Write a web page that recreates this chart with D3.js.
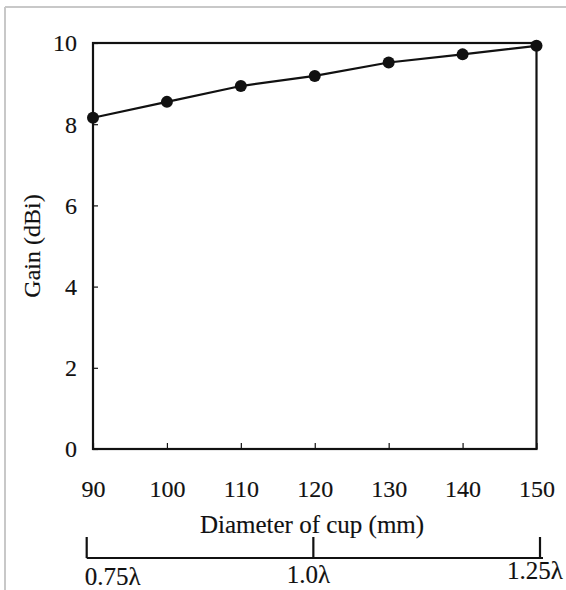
<!DOCTYPE html>
<html>
<head>
<meta charset="utf-8">
<script src="https://cdn.jsdelivr.net/npm/d3@7"></script>
<style>
  body { margin: 0; background: #fff; }
  svg text { font-family: "Liberation Serif", "Times New Roman", serif; fill: #111; stroke: #111; stroke-width: 0.15px; }
  .axis path, .axis line { stroke: #111; }
</style>
</head>
<body>
<svg width="566" height="590"></svg>
<script>
// values
var diameters = [90, 100, 110, 120, 130, 140, 150];
var gains = [8.16, 8.55, 8.94, 9.19, 9.52, 9.72, 9.93];
var xTicks = [90, 100, 110, 120, 130, 140, 150];
var yTicks = [0, 2, 4, 6, 8, 10];
var lambdaTicks = [0.75, 1.0, 1.25];
var lambdaLabels = ["0.75\u03bb", "1.0\u03bb", "1.25\u03bb"];

var svg = d3.select("svg"),
    margin = {top: 43, right: 29.5, bottom: 141, left: 93},
    width = svg.attr("width") - margin.left - margin.right,
    height = svg.attr("height") - margin.top - margin.bottom;

// light scan frame at left / top
svg.append("line").attr("x1", 5).attr("y1", 7).attr("x2", 5).attr("y2", 590)
    .attr("stroke", "#c8c8c8").attr("stroke-width", 2);
svg.append("line").attr("x1", 5).attr("y1", 7).attr("x2", 566).attr("y2", 7)
    .attr("stroke", "#c8c8c8").attr("stroke-width", 2);

var g = svg.append("g").attr("transform", "translate(" + margin.left + "," + margin.top + ")");

var x = d3.scaleLinear().domain([90, 150]).range([0, width]),
    y = d3.scaleLinear().domain([0, 10]).range([height, 0]);

// frame of the plot
g.append("rect")
    .attr("width", width).attr("height", height)
    .attr("fill", "none").attr("stroke", "#111").attr("stroke-width", 2.2);

// x axis, ticks pointing inside
var axX = g.append("g").attr("class", "axis")
    .attr("transform", "translate(0," + height + ")")
    .call(d3.axisBottom(x).tickValues(xTicks).tickSizeInner(-6).tickSizeOuter(0));
axX.select(".domain").remove();
axX.selectAll("line").attr("stroke-width", 1.2);
axX.selectAll(".tick text").style("font-size", "24px").attr("dy", "0").attr("y", 47.5);

// y axis, ticks pointing inside
var axY = g.append("g").attr("class", "axis")
    .call(d3.axisLeft(y).tickValues(yTicks).tickSizeInner(-5).tickSizeOuter(0));
axY.select(".domain").remove();
axY.selectAll("line").attr("stroke-width", 1.2);
axY.selectAll(".tick text").style("font-size", "24px").attr("dy", "0.33em").attr("x", -16);

// titles
g.append("text")
    .attr("x", 219).attr("y", height + 84)
    .attr("text-anchor", "middle")
    .style("font-size", "25px")
    .text("Diameter of cup (mm)");

svg.append("text")
    .attr("transform", "translate(40,246) rotate(-90)")
    .attr("text-anchor", "middle")
    .style("font-size", "24px")
    .text("Gain (dBi)");

// data line and dots
var line = d3.line()
    .x(function (d, i) { return x(diameters[i]); })
    .y(function (d) { return y(d); });

g.append("path")
    .datum(gains)
    .attr("d", line)
    .attr("fill", "none")
    .attr("stroke", "#111")
    .attr("stroke-width", 2.2);

g.selectAll(".dot")
    .data(gains)
    .enter().append("circle")
    .attr("class", "dot")
    .attr("cx", function (d, i) { return x(diameters[i]); })
    .attr("cy", function (d) { return y(d); })
    .attr("r", 6)
    .attr("fill", "#111");

// secondary wavelength scale under the chart
var xl = d3.scaleLinear().domain([0.75, 1.25]).range([86.7 - margin.left, 540 - margin.left]);
var lam = g.append("g").attr("transform", "translate(0," + (558 - margin.top) + ")");
lam.append("line")
    .attr("x1", xl(0.75)).attr("x2", xl(1.25) + 3)
    .attr("stroke", "#111").attr("stroke-width", 2.2);
lam.selectAll(".ltick")
    .data(lambdaTicks)
    .enter().append("line")
    .attr("class", "ltick")
    .attr("x1", function (d) { return xl(d); })
    .attr("x2", function (d) { return xl(d); })
    .attr("y1", 0).attr("y2", -21)
    .attr("stroke", "#111").attr("stroke-width", 2.2);
lam.selectAll(".llabel")
    .data(lambdaTicks)
    .enter().append("text")
    .attr("class", "llabel")
    .attr("x", function (d, i) { return i === 0 ? xl(d) - 2 : xl(d) - 5; })
    .attr("y", function (d, i) { return [27, 25, 21][i]; })
    .attr("text-anchor", function (d, i) { return i === 0 ? "start" : "middle"; })
    .style("font-size", "25px")
    .text(function (d, i) { return lambdaLabels[i]; });
</script>
</body>
</html>
